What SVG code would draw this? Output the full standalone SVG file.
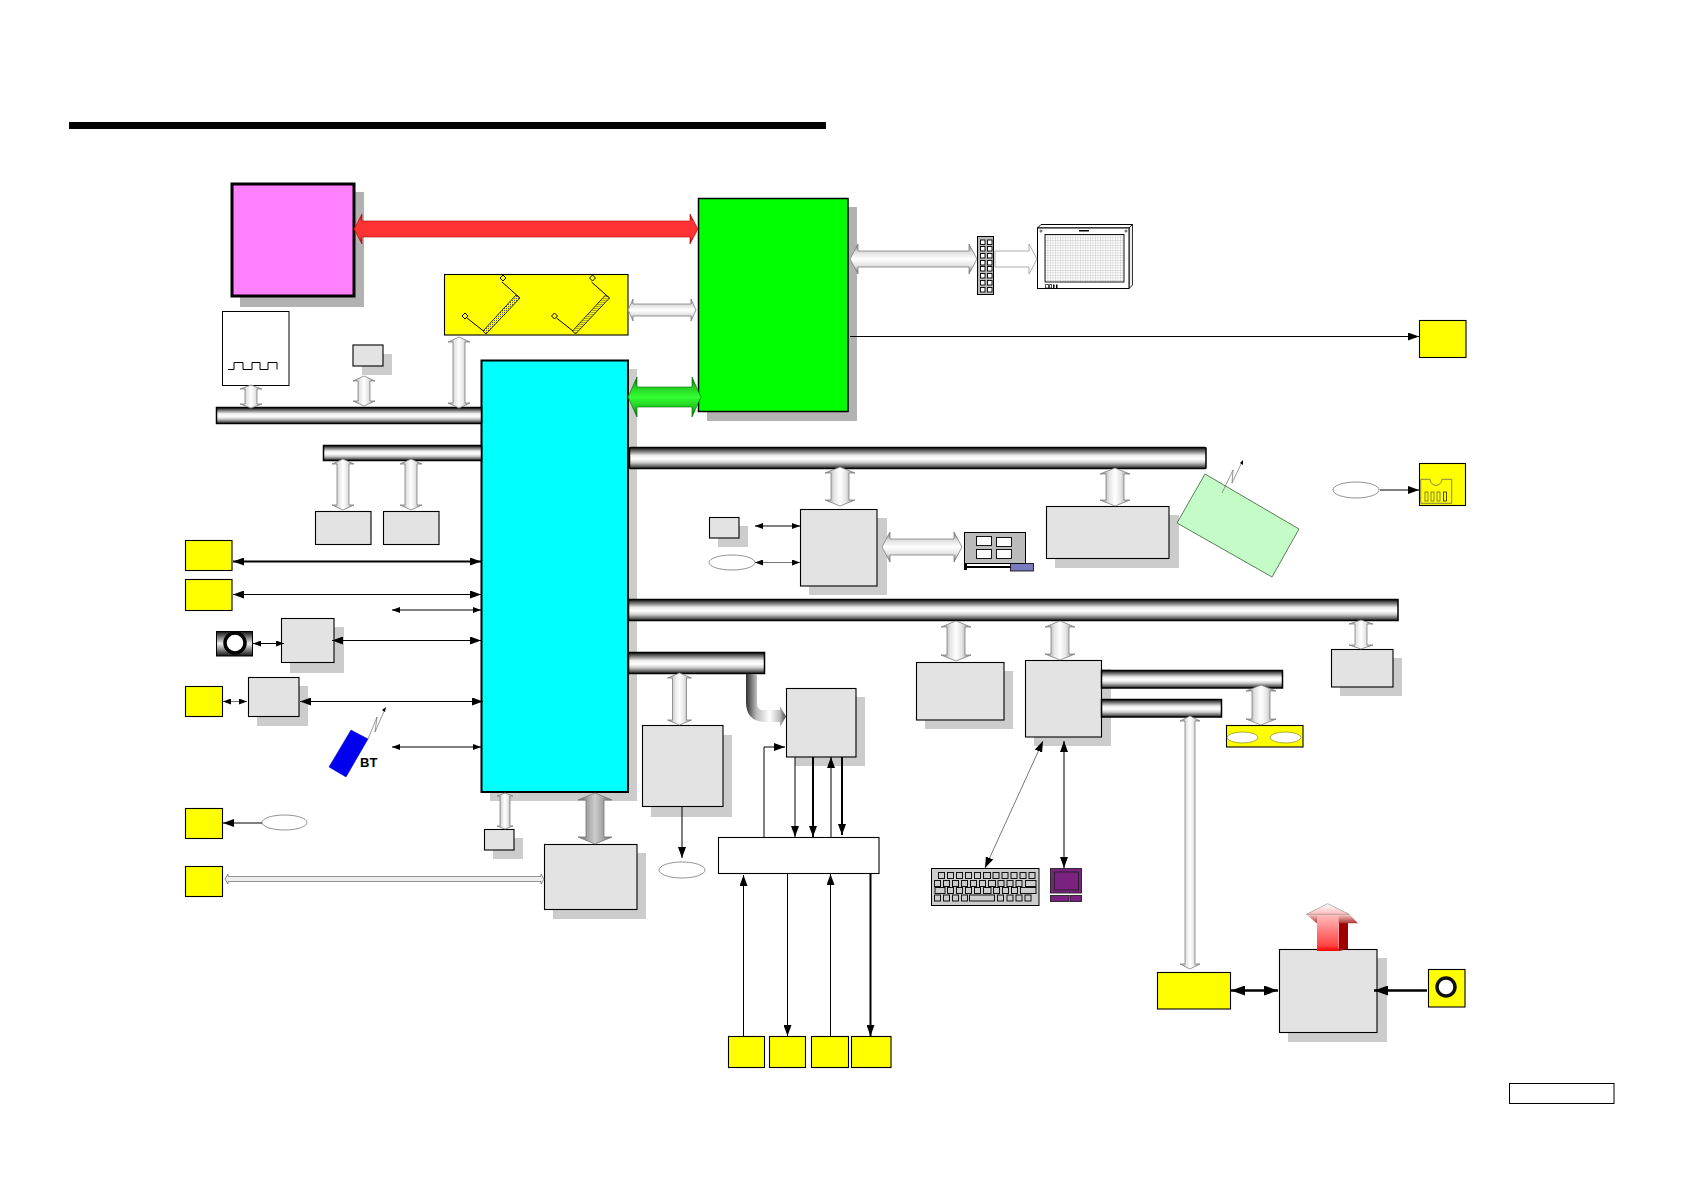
<svg xmlns="http://www.w3.org/2000/svg" width="1684" height="1190" viewBox="0 0 1684 1190">
<style>
.box{fill:#e3e3e3;stroke:#000;stroke-width:1.1}
.sh{fill:#ccc}
.sh2{fill:#b2b2b2}
.y{fill:#ff0;stroke:#000;stroke-width:1.1}
.bus{fill:url(#busG);stroke:#000;stroke-width:1.5}
.el{fill:#fff;stroke:#777;stroke-width:.8}
.ha{fill:url(#hArrow);stroke:#808080;stroke-width:.8}
.va{fill:url(#vArrow);stroke:#808080;stroke-width:.8}
.l1{fill:none;stroke:#000;stroke-width:1;marker-end:url(#ah)}
.d1{fill:none;stroke:#000;stroke-width:1;marker-start:url(#ah);marker-end:url(#ah)}
.d2{fill:none;stroke:#000;stroke-width:2;marker-start:url(#ah);marker-end:url(#ah)}
.ds{fill:none;stroke:#000;stroke-width:1;marker-start:url(#ahs);marker-end:url(#ahs)}
.t2{stroke-width:2}
.gr{stroke:#555;stroke-width:.8}
.k{fill:#ccc;stroke:#111;stroke-width:1}
.pin{fill:#fff;stroke:#000;stroke-width:.9}
.ant{fill:none;stroke:#000;stroke-width:1}
.wire{fill:none;stroke:#555;stroke-width:.6}
</style>
<defs>
<linearGradient id="busG" x1="0" y1="0" x2="0" y2="1"><stop offset="0" stop-color="#111"/><stop offset=".18" stop-color="#777"/><stop offset=".38" stop-color="#eee"/><stop offset=".55" stop-color="#fff"/><stop offset=".72" stop-color="#ccc"/><stop offset="1" stop-color="#222"/></linearGradient>
<linearGradient id="hArrow" x1="0" y1="0" x2="0" y2="1"><stop offset="0" stop-color="#666"/><stop offset=".26" stop-color="#ddd"/><stop offset=".5" stop-color="#fff"/><stop offset=".72" stop-color="#e4e4e4"/><stop offset="1" stop-color="#666"/></linearGradient>
<linearGradient id="vArrow" x1="0" y1="0" x2="1" y2="0"><stop offset="0" stop-color="#777"/><stop offset=".3" stop-color="#e4e4e4"/><stop offset=".5" stop-color="#fff"/><stop offset=".7" stop-color="#e4e4e4"/><stop offset="1" stop-color="#777"/></linearGradient>
<linearGradient id="grayArrow" x1="0" y1="0" x2="1" y2="0"><stop offset="0" stop-color="#666"/><stop offset=".3" stop-color="#aaa"/><stop offset=".5" stop-color="#ccc"/><stop offset=".7" stop-color="#aaa"/><stop offset="1" stop-color="#666"/></linearGradient>
<linearGradient id="redArrow" x1="0" y1="0" x2="0" y2="1"><stop offset="0" stop-color="#a00"/><stop offset=".25" stop-color="#f33"/><stop offset=".75" stop-color="#f33"/><stop offset="1" stop-color="#a00"/></linearGradient>
<linearGradient id="greenArrow" x1="0" y1="0" x2="0" y2="1"><stop offset="0" stop-color="#060"/><stop offset=".25" stop-color="#2c2"/><stop offset=".5" stop-color="#3f3"/><stop offset=".75" stop-color="#2c2"/><stop offset="1" stop-color="#060"/></linearGradient>
<linearGradient id="elbow" gradientUnits="userSpaceOnUse" x1="745" y1="0" x2="786" y2="0"><stop offset="0" stop-color="#222"/><stop offset=".28" stop-color="#bbb"/><stop offset=".6" stop-color="#fff"/><stop offset=".85" stop-color="#bbb"/><stop offset="1" stop-color="#444"/></linearGradient>
<linearGradient id="cam" x1="0" y1="0" x2="0" y2="1"><stop offset="0" stop-color="#111"/><stop offset=".5" stop-color="#eee"/><stop offset="1" stop-color="#111"/></linearGradient>
<linearGradient id="upShaft" x1="0" y1="0" x2="0" y2="1"><stop offset="0" stop-color="#ffc0c0"/><stop offset=".85" stop-color="#f44"/><stop offset="1" stop-color="#f00"/></linearGradient>
<linearGradient id="upHead" x1="0" y1="0" x2="0" y2="1"><stop offset="0" stop-color="#fff"/><stop offset="1" stop-color="#fbb"/></linearGradient>
<linearGradient id="upBand" x1="0" y1="0" x2="0" y2="1"><stop offset="0" stop-color="#fcc"/><stop offset="1" stop-color="#a33"/></linearGradient>
<pattern id="hatch" width="2" height="2" patternUnits="userSpaceOnUse"><rect width="2" height="2" fill="#ff0"/><rect width="1" height="1" fill="#555"/></pattern>
<pattern id="lcdGrid" width="2.5" height="2.5" patternUnits="userSpaceOnUse"><rect width="2.5" height="2.5" fill="#fff"/><path d="M0,0H2.5M0,0V2.5" stroke="#aaa" stroke-width=".6"/></pattern>
<marker id="ah" viewBox="0 0 11 8" refX="11" refY="4" markerWidth="11" markerHeight="8" markerUnits="userSpaceOnUse" orient="auto-start-reverse"><path d="M0,0L11,4L0,8Z" fill="#000"/></marker>
<marker id="ahs" viewBox="0 0 8 6" refX="8" refY="3" markerWidth="8" markerHeight="6" markerUnits="userSpaceOnUse" orient="auto-start-reverse"><path d="M0,0L8,3L0,6Z" fill="#000"/></marker>
<marker id="ahb" viewBox="0 0 14 10" refX="14" refY="5" markerWidth="14" markerHeight="10" markerUnits="userSpaceOnUse" orient="auto-start-reverse"><path d="M0,0L14,5L0,10Z" fill="#000"/></marker>
</defs>

<rect id="title-rule" x="69" y="122" width="757" height="7" fill="#000"/>

<g id="nodes">
<g id="cpu"><rect class="sh2" x="240" y="192" width="124" height="115"/><rect x="232" y="184" width="122" height="112" fill="#ff80ff" stroke="#000" stroke-width="3"/></g>
<g id="north-bridge"><rect class="sh2" x="707" y="207" width="150" height="214"/><rect x="698.5" y="198.5" width="149.500" height="213" fill="#0f0" stroke="#000" stroke-width="1.500"/></g>
<g id="south-bridge"><rect class="sh" x="490" y="369" width="147" height="432"/><rect x="481.500" y="360.500" width="146.500" height="431.500" fill="#0ff" stroke="#000" stroke-width="2"/></g>
<g id="memory">
<rect class="y" x="444.500" y="274.500" width="183.500" height="60.500"/>
<g id="dimn1"><path class="ant" d="M467,318L486,333M502,282L520,298"/><polygon points="483,331 486,334 520,298 516,295" fill="url(#hatch)" stroke="#000" stroke-width=".8"/><polygon points="465,313 468,316 465,319 462,316" fill="#ff0" stroke="#000"/><polygon points="503,275 506,278 503,281 500,278" fill="#ff0" stroke="#000"/></g>
<g id="dimn2" transform="translate(89.500 0)"><path class="ant" d="M467,318L486,333M502,282L520,298"/><polygon points="483,331 486,334 520,298 516,295" fill="url(#hatch)" stroke="#000" stroke-width=".8"/><polygon points="465,313 468,316 465,319 462,316" fill="#ff0" stroke="#000"/><polygon points="503,275 506,278 503,281 500,278" fill="#ff0" stroke="#000"/></g>
</g>
<g id="clock"><rect x="222.500" y="311.500" width="66.500" height="74" fill="#fff" stroke="#000"/><path d="M228,369.500H234V362.500H243V369.500H252V362.500H260V369.500H268V362.500H277V369.500" fill="none" stroke="#000"/></g>
<g id="chip-small-top"><rect class="sh" x="362" y="354" width="30" height="21"/><rect class="box" x="353" y="345" width="30" height="21"/></g>
<g id="connector"><rect x="977.500" y="236.500" width="16" height="58" fill="#bbb" stroke="#000"/>
<rect class="pin" x="980.500" y="240" width="4.500" height="4.500"/><rect class="pin" x="987.500" y="240" width="4.500" height="4.500"/>
<rect class="pin" x="980.500" y="246.500" width="4.500" height="4.500"/><rect class="pin" x="987.500" y="246.500" width="4.500" height="4.500"/>
<rect class="pin" x="980.500" y="253.500" width="4.500" height="4.500"/><rect class="pin" x="987.500" y="253.500" width="4.500" height="4.500"/>
<rect class="pin" x="980.500" y="260.500" width="4.500" height="4.500"/><rect class="pin" x="987.500" y="260.500" width="4.500" height="4.500"/>
<rect class="pin" x="980.500" y="266.500" width="4.500" height="4.500"/><rect class="pin" x="987.500" y="266.500" width="4.500" height="4.500"/>
<rect class="pin" x="980.500" y="273.500" width="4.500" height="4.500"/><rect class="pin" x="987.500" y="273.500" width="4.500" height="4.500"/>
<rect class="pin" x="980.500" y="280.500" width="4.500" height="4.500"/><rect class="pin" x="987.500" y="280.500" width="4.500" height="4.500"/>
<rect class="pin" x="980.500" y="287.500" width="4.500" height="4.500"/><rect class="pin" x="987.500" y="287.500" width="4.500" height="4.500"/>
</g>
<g id="lcd"><polygon points="1037.500,228 1041,224.500 1132.500,224.500 1129,228" fill="#fff" stroke="#000"/><polygon points="1129,228 1132.500,224.500 1132.500,285 1129,288.500" fill="#eee" stroke="#000" stroke-width=".8"/><rect x="1037.500" y="228" width="91.500" height="60.500" fill="#fff" stroke="#000"/><rect x="1045" y="234.500" width="79" height="47.500" fill="url(#lcdGrid)" stroke="#000" stroke-width=".9"/><rect x="1079" y="230" width="10" height="1.500" fill="#000"/><circle cx="1041" cy="231" r="1.500" fill="#777"/><circle cx="1126" cy="231" r="1.500" fill="#777"/><path d="M1045.500,284.500h3v3.500h-3zM1049.500,284.500h2v3.500h-2z" fill="none" stroke="#000" stroke-width=".7"/><rect x="1053" y="284.500" width="1.500" height="3.500"/><rect x="1056" y="284.500" width="1.500" height="3.500"/></g>
<g id="out-top"><rect class="y" x="1419.500" y="320.500" width="46.500" height="37"/></g>
<g id="chip-a"><rect class="box" x="315.500" y="511.500" width="55.500" height="33"/></g>
<g id="chip-b"><rect class="box" x="383.500" y="511.500" width="55.500" height="33"/></g>
<g id="port-1"><rect class="y" x="185.500" y="540.500" width="46.500" height="30"/></g>
<g id="port-2"><rect class="y" x="185.500" y="579.500" width="46.500" height="31"/></g>
<g id="camera-jack"><rect x="216.500" y="631.500" width="36" height="24.500" fill="url(#cam)" stroke="#000"/><circle cx="235" cy="643" r="10" fill="#fff" stroke="#000" stroke-width="3.500"/></g>
<g id="chip-c"><rect class="sh" x="290" y="627" width="54" height="46"/><rect class="box" x="281.500" y="618.500" width="52.500" height="44"/></g>
<g id="port-3"><rect class="y" x="185.500" y="686.500" width="37" height="30"/></g>
<g id="chip-d"><rect class="sh" x="257" y="686" width="51" height="40"/><rect class="box" x="248.500" y="677.500" width="50.500" height="39"/></g>
<g id="bt"><polygon points="351,730 368,739 346,777 329,767" fill="#00e" stroke="#00c" stroke-width=".5"/><polyline class="wire" points="368,739 377,717 375,732 385,709"/><path d="M386,707l-1,5l-3,-2z" fill="#000"/><text x="360" y="767" font-family="'Liberation Sans',Arial,sans-serif" font-size="13" font-weight="700" fill="#000">BT</text></g>
<g id="port-4"><rect class="y" x="185.500" y="808.500" width="37" height="30"/></g>
<g id="oval-left"><ellipse class="el" cx="284.500" cy="822.500" rx="22.500" ry="7.500"/></g>
<g id="port-5"><rect class="y" x="185.500" y="866.500" width="37" height="30"/></g>
<g id="chip-e"><rect class="sh" x="493" y="838" width="30" height="21"/><rect class="box" x="484.500" y="829.500" width="29.500" height="20.500"/></g>
<g id="chip-f"><rect class="sh" x="553" y="853" width="93" height="66"/><rect class="box" x="544.500" y="844.500" width="92.500" height="65"/></g>
<g id="chip-g"><rect class="sh" x="651" y="735" width="81" height="82"/><rect class="box" x="642.500" y="725.500" width="80.500" height="81"/></g>
<g id="oval-bottom"><ellipse class="el" cx="682" cy="870" rx="23" ry="8"/></g>
<g id="chip-h"><rect class="sh" x="795" y="697" width="70" height="69"/><rect class="box" x="786.500" y="688.500" width="69.500" height="68.500"/></g>
<g id="mux"><rect x="718.500" y="837.500" width="160.500" height="36" fill="#fff" stroke="#000" stroke-width="1.100"/></g>
<g id="bottom-1"><rect class="y" x="728.500" y="1036.500" width="36" height="31"/></g>
<g id="bottom-2"><rect class="y" x="769.500" y="1036.500" width="36" height="31"/></g>
<g id="bottom-3"><rect class="y" x="811.500" y="1036.500" width="37" height="31"/></g>
<g id="bottom-4"><rect class="y" x="851.500" y="1036.500" width="39.500" height="31"/></g>
<g id="chip-i"><rect class="sh" x="809" y="518" width="78" height="77"/><rect class="box" x="800.500" y="509.500" width="76.500" height="76.500"/></g>
<g id="chip-j"><rect class="sh" x="718" y="526" width="30" height="21"/><rect class="box" x="709.500" y="517.500" width="29.500" height="20.500"/></g>
<g id="oval-i"><ellipse class="el" cx="732" cy="562.500" rx="23" ry="7.500"/></g>
<g id="card"><rect x="964.500" y="532.500" width="61" height="31" fill="#bbb" stroke="#000"/><rect class="pin" x="976.500" y="536.500" width="15" height="9"/><rect class="pin" x="996.500" y="537.500" width="15" height="9"/><rect class="pin" x="976.500" y="549.500" width="15" height="9"/><rect class="pin" x="996.500" y="549.500" width="15" height="9"/><rect x="964" y="563" width="3" height="7" fill="#000"/><rect x="964" y="566" width="47" height="2" fill="#000"/><rect x="1010.500" y="563.500" width="23" height="7.500" fill="#7a7ac0" stroke="#000" stroke-width=".8"/></g>
<g id="chip-k"><rect class="sh" x="1055" y="515" width="124" height="53"/><rect class="box" x="1046.500" y="506.500" width="122.500" height="52"/></g>
<g id="wifi"><polygon points="1205,474 1299,529 1272,577 1177,523" fill="#c4fcc8" stroke="#4a704a" stroke-width=".9"/><polyline class="wire" points="1222,493 1233,470 1232,483 1242,462"/><path d="M1243,460l0,5l-3,-2z" fill="#000"/></g>
<g id="oval-sd"><ellipse class="el" cx="1356" cy="490" rx="23" ry="8"/></g>
<g id="sd-slot"><rect class="y" x="1419.500" y="463.500" width="46" height="42"/><path d="M1420.700,503.300V479.300H1430A6,6 0 0 0 1442,479.300H1451.700V503.300Z" fill="none" stroke="#666" stroke-width=".8"/><rect x="1425" y="492" width="3" height="9" fill="none" stroke="#555" stroke-width=".7"/><rect x="1431" y="492" width="3" height="9" fill="none" stroke="#555" stroke-width=".7"/><rect x="1437" y="492" width="3" height="9" fill="none" stroke="#555" stroke-width=".7"/><rect x="1443.500" y="492" width="3" height="9" fill="none" stroke="#000" stroke-width=".7"/></g>
<g id="chip-l"><rect class="sh" x="925" y="671" width="88" height="58"/><rect class="box" x="916.500" y="662.500" width="87.500" height="57.500"/></g>
<g id="chip-m"><rect class="sh" x="1034" y="669" width="77" height="77"/><rect class="box" x="1025.500" y="660.500" width="76" height="76.500"/></g>
<g id="chip-n"><rect class="sh" x="1340" y="658" width="62" height="38"/><rect class="box" x="1331.500" y="649.500" width="61.500" height="37.500"/></g>
<g id="slot-pair"><rect class="y" x="1226.500" y="725.500" width="76.500" height="21.500"/><ellipse cx="1242.500" cy="737.500" rx="15.500" ry="5.500" fill="#fff" stroke="#880" stroke-width=".7"/><ellipse cx="1285.500" cy="737.500" rx="15.500" ry="5.500" fill="#fff" stroke="#880" stroke-width=".7"/></g>
<g id="keyboard"><rect x="931.500" y="868.500" width="107.500" height="37" fill="#ccc" stroke="#000"/>
<rect class="k" x="938.500" y="872.500" width="6" height="6"/><rect class="k" x="947.500" y="872.500" width="6" height="6"/><rect class="k" x="956.500" y="872.500" width="6" height="6"/><rect class="k" x="965.500" y="872.500" width="6" height="6"/><rect class="k" x="974.500" y="872.500" width="6" height="6"/><rect class="k" x="983.500" y="872.500" width="7" height="6"/><rect class="k" x="993" y="872.500" width="6" height="6"/><rect class="k" x="1002" y="872.500" width="6" height="6"/><rect class="k" x="1011" y="872.500" width="6" height="6"/><rect class="k" x="1020" y="872.500" width="6" height="6"/><rect class="k" x="1029" y="872.500" width="6" height="6"/>
<rect class="k" x="934.500" y="880.500" width="6" height="6"/><rect class="k" x="943.500" y="880.500" width="6" height="6"/><rect class="k" x="952.500" y="880.500" width="6" height="6"/><rect class="k" x="961.500" y="880.500" width="6" height="6"/><rect class="k" x="970.500" y="880.500" width="6" height="6"/><rect class="k" x="979.500" y="880.500" width="6" height="6"/><rect class="k" x="988.500" y="880.500" width="7" height="6"/><rect class="k" x="998" y="880.500" width="6" height="6"/><rect class="k" x="1007" y="880.500" width="6" height="6"/><rect class="k" x="1016" y="880.500" width="6" height="6"/><rect class="k" x="1025.500" y="880.500" width="10.500" height="6"/>
<rect class="k" x="935" y="887.500" width="10" height="6"/><rect class="k" x="947.500" y="887.500" width="6" height="6"/><rect class="k" x="956.500" y="887.500" width="6" height="6"/><rect class="k" x="965.500" y="887.500" width="6" height="6"/><rect class="k" x="974.500" y="887.500" width="6" height="6"/><rect class="k" x="983.500" y="887.500" width="7.500" height="6"/><rect class="k" x="993.500" y="887.500" width="6" height="6"/><rect class="k" x="1002.500" y="887.500" width="6" height="6"/><rect class="k" x="1011.500" y="887.500" width="6" height="6"/><rect class="k" x="1020.500" y="887.500" width="15.500" height="6"/>
<rect class="k" x="934.500" y="895" width="6" height="6"/><rect class="k" x="943.500" y="895" width="6" height="6"/><rect class="k" x="952.500" y="895" width="6" height="6"/><rect class="k" x="961.500" y="895" width="6" height="6"/><rect class="k" x="969.500" y="895" width="25" height="6"/><rect class="k" x="997.500" y="895" width="6" height="6"/><rect class="k" x="1007" y="895" width="6" height="6"/><rect class="k" x="1016" y="895" width="6" height="6"/><rect class="k" x="1025" y="895" width="6" height="6"/></g>
<g id="monitor"><rect x="1050.500" y="868.500" width="31" height="24.500" fill="#7b2180" stroke="#222" stroke-width=".9"/><rect x="1054.500" y="872" width="24" height="18" fill="#7b2180" stroke="#222" stroke-width=".9"/><rect x="1050.500" y="895.500" width="18.500" height="6" fill="#7b2180" stroke="#222" stroke-width=".9"/><rect x="1070" y="895.500" width="11.500" height="6" fill="#7b2180" stroke="#222" stroke-width=".9"/></g>
<g id="dock"><rect class="y" x="1157.500" y="972.500" width="73" height="36.500"/></g>
<g id="chip-o"><rect class="sh" x="1288" y="958" width="99" height="84"/><rect class="box" x="1279.500" y="949.500" width="97.500" height="83"/></g>
<g id="audio-jack"><rect class="y" x="1428.500" y="969.500" width="36.500" height="37.500"/><circle cx="1446" cy="987" r="9" fill="#fff" stroke="#111" stroke-width="3.500"/></g>
<g id="ref-box"><rect x="1509.500" y="1083.500" width="104.500" height="20" fill="#fff" stroke="#000"/></g>
<g id="bus-1"><rect class="bus" x="216.500" y="407.500" width="265" height="16"/></g>
<g id="bus-2"><rect class="bus" x="323.500" y="445.500" width="158" height="15"/></g>
<g id="bus-3"><rect class="bus" x="629.500" y="447.500" width="576.500" height="21" rx="1"/></g>
<g id="bus-4"><rect class="bus" x="628.500" y="599.500" width="769.500" height="21"/></g>
<g id="bus-5"><rect class="bus" x="628.500" y="652.500" width="136" height="21"/></g>
<g id="bus-6"><rect class="bus" x="1101.500" y="670.500" width="181" height="17.500"/></g>
<g id="bus-7"><rect class="bus" x="1101.500" y="699.500" width="120" height="17.500"/></g>
</g>

<g id="connectors">
<polygon points="354,229 362,214 362,221 690,221 690,214 698,229 690,244 690,237 362,237 362,244" fill="url(#redArrow)" stroke="#a00" stroke-width=".6"/>
<polygon class="ha" points="628,310 633,299 633,304 691,304 691,299 696,310 691,321 691,316 633,316 633,321"/>
<polygon points="628,397 637,377 637,387 692,387 692,377 701,397 692,417 692,407 637,407 637,417" fill="url(#greenArrow)" stroke="#060" stroke-width=".6"/>
<polygon class="ha" points="850,259 858,244 858,251 969,251 969,244 977,259 969,274 969,267 858,267 858,274"/>
<polygon points="995,251 1029,251 1029,244 1037,259 1029,274 1029,267 995,267" fill="#fff" stroke="#999" stroke-width=".8"/>
<polygon class="ha" points="882,547 890,532 890,539 954,539 954,532 962,547 954,562 954,555 890,555 890,562"/>
<polygon points="225,879 228,874 228,876.500 541,876.500 541,874 544,879 541,884 541,881.500 228,881.500 228,884" fill="#eee" stroke="#777" stroke-width=".8"/>
<polygon class="va" points="251,385 262,389 257,389 257,404 262,404 251,408 240,404 245,404 245,389 240,389"/>
<polygon class="va" points="364,376 375,381 370,381 370,401 375,401 364,406 353,401 358,401 358,381 353,381"/>
<polygon class="va" points="459,337 470,342 465,342 465,403 470,403 459,408 448,403 453,403 453,342 448,342"/>
<polygon class="va" points="343,459 354,464 349,464 349,505 354,505 343,510 332,505 337,505 337,464 332,464"/>
<polygon class="va" points="411,459 422,464 417,464 417,505 422,505 411,510 400,505 405,505 405,464 400,464"/>
<polygon class="va" points="840,467 855,473 849,473 849,500 855,500 840,506 825,500 831,500 831,473 825,473"/>
<polygon class="va" points="1115,468 1130,474 1124,474 1124,500 1130,500 1115,506 1100,500 1106,500 1106,474 1100,474"/>
<polygon class="va" points="956,621 971,627 965,627 965,655 971,655 956,661 941,655 947,655 947,627 941,627"/>
<polygon class="va" points="1060,621 1075,627 1069,627 1069,654 1075,654 1060,660 1045,654 1051,654 1051,627 1045,627"/>
<polygon class="va" points="1261,685 1276,691 1270,691 1270,719 1276,719 1261,725 1246,719 1252,719 1252,691 1246,691"/>
<polygon class="va" points="1361,620 1373,624 1367,624 1367,645 1373,645 1361,649 1349,645 1355,645 1355,624 1349,624"/>
<polygon class="va" points="679.500,673 691.500,678 686.500,678 686.500,720 691.500,720 679.500,725 667.500,720 672.500,720 672.500,678 667.500,678"/>
<polygon class="va" points="1190,716 1200,721 1195,721 1195,964 1200,964 1190,969 1180,964 1185,964 1185,721 1180,721"/>
<polygon class="va" points="505,793 513,796 510,796 510,826 513,826 505,829 497,826 500,826 500,796 497,796"/>
<polygon points="595,793 612,800 604,800 604,837 612,837 595,844 578,837 586,837 586,800 578,800" fill="url(#grayArrow)" stroke="#777" stroke-width=".8"/>
<path d="M746,674V702Q746,722 766,722H780V727L786,716.500L780,706V710H762Q757,710 757,702V674Z" fill="url(#elbow)"/>
<path class="l1" d="M850,336.500H1419"/>
<path class="d2" d="M233,561.500H481"/>
<path class="d1" d="M233,594.500H481"/>
<path class="ds" d="M392,610H481"/>
<path class="ds" d="M253,643.500H284"/>
<path class="d1" d="M332,640.500H481"/>
<path class="ds gr" d="M223,701.500H247"/>
<path class="d1" d="M300,701.500H483"/>
<path class="ds" d="M392,747H481"/>
<path class="l1" d="M262,823H223"/>
<path class="ds" d="M755,526H800"/>
<path class="ds gr" d="M755,562.500H800"/>
<path class="l1" d="M1380,490H1419"/>
<path class="l1" d="M682,806V858"/>
<path class="l1" d="M795,757V837"/>
<path class="l1 t2" d="M813,757V837"/>
<path class="l1" d="M831,837V757"/>
<path class="l1 t2" d="M842,757V835"/>
<path class="l1" d="M764,837V747H785"/>
<path class="l1" d="M743.500,1036V875"/>
<path class="l1" d="M787.500,873V1036"/>
<path class="l1" d="M830.500,1036V874"/>
<path class="l1 t2" d="M870.500,873V1036"/>
<path class="d1 gr" d="M1043,741L985,868"/>
<path class="d1" d="M1064,741V868"/>
<path fill="none" stroke="#000" stroke-width="2.500" marker-start="url(#ahb)" marker-end="url(#ahb)" d="M1231,990.500H1278"/>
<path fill="none" stroke="#000" stroke-width="2.500" marker-end="url(#ahb)" d="M1427,990.500H1374"/>
<g id="up-arrow">
<polygon points="1339,915 1348,923 1348,949 1339,951" fill="#a00000"/>
<polygon points="1306.300,914.300 1316.700,923.300 1358,923.300 1349.300,914.300" fill="url(#upBand)"/>
<rect x="1317" y="914" width="21.700" height="37" fill="url(#upShaft)"/>
<polygon points="1327.700,903.700 1306.300,914.300 1349.300,914.300" fill="url(#upHead)" stroke="#888" stroke-width=".6"/>
</g>
</g>
</svg>
